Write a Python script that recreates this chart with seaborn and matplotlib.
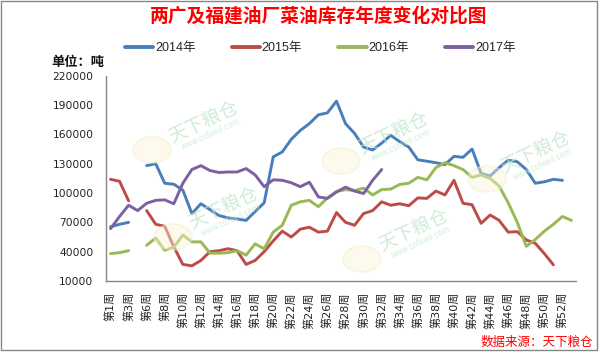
import numpy as np
import pandas as pd
import seaborn as sns
import matplotlib
matplotlib.use("Agg")
import matplotlib.pyplot as plt
from matplotlib.lines import Line2D
from matplotlib.patches import Rectangle, Ellipse

NaN = np.nan

weeks = ['第1周', '第2周', '第3周', '第4周'] + ['第%d周' % w for w in range(6, 54)]

y2014 = [65500, 68000, 70000, NaN, 128000, 130000, 110000, 109000, 103000, 79000,
         89000, 83000, 77000, 74500, 73500, 72000, 81000, 90000, 137000, 142000,
         155000, 164000, 171000, 180000, 182000, 194000, 171000, 161000, 147000, 144000,
         151000, 159000, 152500, 147000, 134000, 132500, 131000, 129000, 137500, 136500,
         145000, 120000, 117500, 126000, 133500, 132000, 124000, 110000, 111500, 114000,
         113000, NaN]
y2015 = [114000, 112000, 92000, NaN, 82000, 68000, 66000, 45000, 27000, 25500,
         31000, 40000, 41000, 43000, 41000, 27000, 31000, 40000, 51000, 61000,
         55000, 63000, 65000, 60000, 61000, 80000, 70000, 67000, 79000, 82000,
         91000, 87500, 89000, 87000, 95000, 94500, 102000, 98000, 113000, 89500,
         88000, 69000, 77500, 72000, 60000, 60500, 52000, 48500, 38000, 26500,
         NaN, NaN]
y2016 = [38000, 39000, 41000, NaN, 46500, 54000, 41500, 44500, 57000, 50000,
         50000, 38500, 38500, 39000, 41000, 36500, 48000, 43000, 60000, 67000,
         87500, 91000, 92500, 86000, 95000, 101500, 103500, 102500, 105000, 98000,
         103500, 104000, 108800, 110000, 116000, 113500, 126000, 131000, 128000, 124000,
         116000, 118500, 115000, 107000, 90000, 70000, 45500, 52500, 61000, 68000,
         76000, 72000]
y2017 = [63500, 76000, 87500, 82000, 89500, 92500, 93000, 89000, 110000, 124000,
         128000, 123000, 121000, 121500, 121500, 125000, 118500, 106500, 113500, 113000,
         110500, 106500, 111000, 96000, 94500, 101000, 106000, 102000, 99500, 113000,
         124000] + [NaN] * 21

series_names = ['2014年', '2015年', '2016年', '2017年']
series_values = [y2014, y2015, y2016, y2017]
colors = ['#4A7EBB', '#BE4B48', '#98B954', '#7D60A0']

yticks = [10000, 40000, 70000, 100000, 130000, 160000, 190000, 220000]

sns.set_theme(style="white")
plt.rcParams['font.family'] = ['DejaVu Sans', 'Noto Sans CJK SC']

W, H = 599, 353
fig = plt.figure(figsize=(W / 100, H / 100), dpi=100)
ax = fig.add_axes([106 / W, 1 - 281 / H, 470 / W, (281 - 75.7) / H])

rows = []
for name, vals in zip(series_names, series_values):
    seg = 0
    prev_nan = True
    for i, v in enumerate(vals):
        if np.isnan(v):
            prev_nan = True
            continue
        if prev_nan:
            seg += 1
            prev_nan = False
        rows.append({'year': name, 'seg': seg, 'x': i, 'value': v})
df = pd.DataFrame(rows)

for name, col in zip(series_names, colors):
    sub = df[df['year'] == name]
    for s, g in sub.groupby('seg'):
        sns.lineplot(data=g, x='x', y='value', color=col, linewidth=2.1,
                     estimator=None, errorbar=None, sort=False, ax=ax,
                     legend=False, solid_capstyle='round', zorder=3)

ax.set_xlim(-0.5, len(weeks) - 0.5)
ax.set_ylim(10000, 220000)
ax.set_yticks(yticks)
ax.set_yticklabels([str(t) for t in yticks], fontsize=7.7, color='#222222')
lab_idx = list(range(0, len(weeks), 2))
ax.set_xticks(lab_idx)
ax.set_xticklabels([weeks[i] for i in lab_idx], rotation=90, fontsize=8,
                   family=['DejaVu Sans', 'Noto Sans CJK SC'], color='#222222')
ax.set_xticks(np.arange(-0.5, len(weeks), 1), minor=True)
ax.tick_params(axis='x', which='major', length=0, pad=8)
ax.tick_params(axis='x', which='minor', length=4, direction='in', color='#868686', width=0.8)
ax.tick_params(axis='y', which='major', length=3.5, direction='in', color='#868686', width=0.8, pad=9)
ax.set_xlabel('')
ax.set_ylabel('')
for sp in ['top', 'right']:
    ax.spines[sp].set_visible(False)
for sp in ['left', 'bottom']:
    ax.spines[sp].set_color('#868686')
    ax.spines[sp].set_linewidth(1.0)
ax.grid(False)

# watermarks
wm_text = [(203, 122), (223, 208), (393, 133), (535, 152), (413, 230)]
wm_logo = [(152, 150), (173, 237), (341, 161), (487, 179), (362, 259)]
for (tx, ty), (lx, ly) in zip(wm_text, wm_logo):
    fig.text(tx / W, 1 - ty / H, '天下粮仓', rotation=25, fontsize=13.5,
             color='#BFE5CB', ha='center', va='center', family='Noto Sans CJK SC',
             zorder=5, alpha=0.75)
    fig.text((tx + 8) / W, 1 - (ty + 12) / H, 'www.cofeed.com', rotation=25,
             fontsize=5.5, color='#C8EAD2', ha='center', va='center', zorder=5, alpha=0.8)
    fig.add_artist(Ellipse((lx / W, 1 - ly / H), 38 / W, 26 / H, transform=fig.transFigure,
                           facecolor='#FBF3D6', edgecolor='#EAF1C8', linewidth=1.2,
                           zorder=5, alpha=0.45))

# title
fig.text(319 / W, 1 - 16.5 / H, '两广及福建油厂菜油库存年度变化对比图', ha='center', va='center',
         fontsize=13.5, color='#FF0000', family='Noto Sans CJK SC', fontweight='bold')

# legend
handles = [Line2D([0], [0], color=c, lw=2.8) for c in colors]
fig.legend(handles, series_names, loc='center left', bbox_to_anchor=(125 / W, 1 - 48 / H),
           ncol=4, frameon=False, borderpad=0, borderaxespad=0, handlelength=2.25,
           handletextpad=0.15, columnspacing=2.9,
           prop={'family': ['Liberation Sans', 'Noto Sans CJK SC'], 'size': 9})

fig.text(51.5 / W, 1 - 62 / H, '单位：吨', ha='left', va='center', fontsize=9.5,
         fontweight='bold', family='Noto Sans CJK SC', color='#111111')

fig.text(593 / W, 1 - 342 / H, '数据来源：天下粮仓', ha='right', va='center', fontsize=9,
         color='#FF0000', family='Noto Sans CJK SC')

fig.add_artist(Rectangle((0.5 / W, 1 - 350 / H), 596.5 / W, 349.5 / H, transform=fig.transFigure,
                         facecolor='none', edgecolor='#868686', linewidth=1.0))

fig.savefig('out.png', dpi=100)
